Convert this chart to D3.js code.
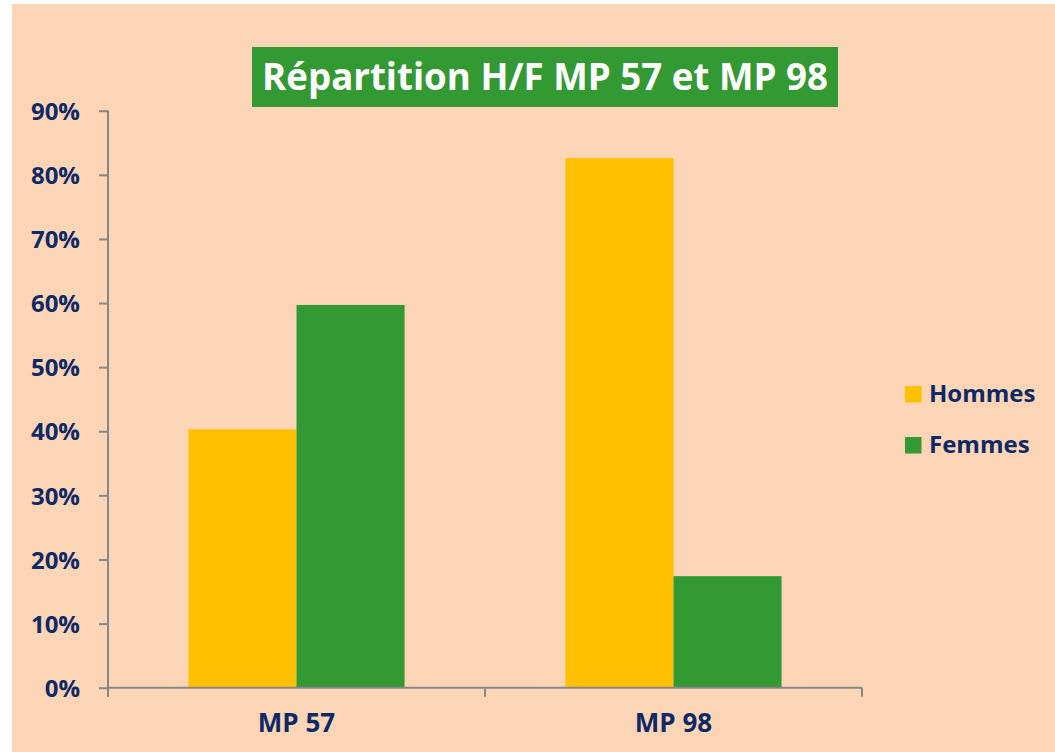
<!DOCTYPE html>
<html><head><meta charset="utf-8">
<script src="https://cdn.jsdelivr.net/npm/d3@7"></script>
<style>html,body{margin:0;padding:0;background:#fff;}svg{display:block;}</style>
</head><body>
<svg id="c" width="1055" height="752"></svg>
<script>
const categories = ["MP 57", "MP 98"];
const seriesNames = ["Hommes", "Femmes"];
const hommes = [0.403, 0.826];
const femmes = [0.597, 0.174];
const yTicks = [0, 0.1, 0.2, 0.3, 0.4, 0.5, 0.6, 0.7, 0.8, 0.9];
const title = "Répartition H/F MP 57 et MP 98";

const colors = {Hommes: "#FFC000", Femmes: "#339933"};
const navy = "#0E2A66";
const font = "'Open Sans', 'Noto Sans', sans-serif";

const svg = d3.select("#c");
svg.append("rect").attr("x", 12).attr("y", 4).attr("width", 1043).attr("height", 748).attr("fill", "#FBD5B5");

const pLeft = 108, pRight = 862, pTop = 110.7, pBottom = 687.7;
const y = d3.scaleLinear().domain([0, 0.9]).range([pBottom, pTop]);
const x0 = d3.scaleBand().domain(categories).range([pLeft, pRight]).paddingInner(0).paddingOuter(0);
const x1 = d3.scaleBand().domain(seriesNames).range([0, x0.bandwidth()]).paddingInner(0).paddingOuter(0.744);

const data = categories.map((c, i) => ({cat: c, vals: [{s: "Hommes", v: hommes[i]}, {s: "Femmes", v: femmes[i]}]}));

const g = svg.append("g");
g.selectAll("g.grp").data(data).join("g").attr("class", "grp").attr("transform", d => `translate(${x0(d.cat)},0)`)
  .selectAll("rect").data(d => d.vals).join("rect")
  .attr("x", d => x1(d.s)).attr("width", x1.bandwidth())
  .attr("y", d => y(d.v)).attr("height", d => pBottom - y(d.v))
  .attr("fill", d => colors[d.s]);

// Y axis
const yAxis = d3.axisLeft(y).tickValues(yTicks).tickFormat(d3.format(".0%")).tickSize(9).tickSizeOuter(0);
const ya = svg.append("g").attr("transform", `translate(${pLeft},0)`).call(yAxis);
ya.select(".domain").remove();
ya.selectAll(".tick line").attr("stroke", "#878787").attr("stroke-width", 2);
ya.selectAll(".tick text").attr("x", -28).attr("fill", navy).attr("font-family", font).attr("font-weight", "bold").attr("font-size", 24).attr("dy", "0.36em");
svg.append("line").attr("x1", pLeft).attr("x2", pLeft).attr("y1", pTop).attr("y2", pBottom + 9).attr("stroke", "#878787").attr("stroke-width", 2);

// X axis
svg.append("line").attr("x1", pLeft).attr("x2", pRight).attr("y1", pBottom).attr("y2", pBottom).attr("stroke", "#878787").attr("stroke-width", 2);
const bounds = [pLeft, ...categories.map(c => x0(c) + x0.bandwidth())];
svg.selectAll("line.xt").data(bounds).join("line").attr("class", "xt")
  .attr("x1", d => d).attr("x2", d => d).attr("y1", pBottom).attr("y2", pBottom + 9)
  .attr("stroke", "#878787").attr("stroke-width", 2);
svg.selectAll("text.xl").data(categories).join("text").attr("class", "xl")
  .attr("x", d => x0(d) + x0.bandwidth() / 2).attr("y", 723).attr("dy", "0.36em")
  .attr("text-anchor", "middle").attr("fill", navy).attr("font-family", font)
  .attr("font-weight", "bold").attr("font-size", 26).text(d => d);

// Title
svg.append("rect").attr("x", 252).attr("y", 47).attr("width", 586).attr("height", 60).attr("fill", "#339933");
const t = svg.append("text").attr("x", 545).attr("y", 77).attr("dy", "0.36em").attr("text-anchor", "middle")
  .attr("fill", "#fff").attr("font-family", font).attr("font-weight", "bold").attr("font-size", 33).text(title);
const tw = t.node().getComputedTextLength();
if (tw > 0) t.attr("font-size", 33 * 566 / tw);

// Legend
const leg = svg.selectAll("g.leg").data(seriesNames).join("g").attr("class", "leg")
  .attr("transform", (d, i) => `translate(905,${386 + i * 51})`);
leg.append("rect").attr("width", 16.5).attr("height", 16.5).attr("fill", d => colors[d]);
leg.append("text").attr("x", 24).attr("y", 7).attr("dy", "0.36em").attr("fill", navy)
  .attr("font-family", font).attr("font-weight", "bold").attr("font-size", 24).text(d => d);
</script>
</body></html>
